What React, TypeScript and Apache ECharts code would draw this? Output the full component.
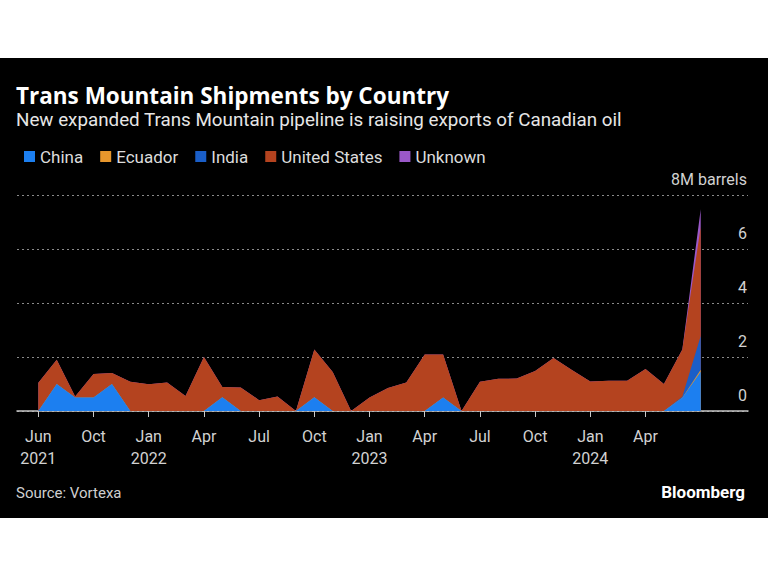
import React, { useEffect, useRef } from "react";
import * as echarts from "echarts";

// Monthly shipments (million barrels), index 0 = first month shown (Jun 2021)
const china = [
  0, 1.0, 0.5, 0.5, 1.0, 0, 0, 0, 0, 0, 0.51, 0, 0, 0, 0, 0.51, 0, 0, 0, 0,
  0, 0, 0.5, 0, 0, 0, 0, 0, 0, 0, 0, 0, 0, 0, 0, 0.49, 1.45,
];
const ecuador = [
  0, 0, 0, 0, 0, 0, 0, 0, 0, 0, 0, 0, 0, 0, 0, 0, 0, 0, 0, 0,
  0, 0, 0, 0, 0, 0, 0, 0, 0, 0, 0, 0, 0, 0, 0, 0, 0.08,
];
const india = [
  0, 0, 0, 0, 0, 0, 0, 0, 0, 0, 0, 0, 0, 0, 0, 0, 0, 0, 0, 0,
  0, 0, 0, 0, 0, 0, 0, 0, 0, 0, 0, 0, 0, 0, 0, 0.04, 1.25,
];
const unitedStates = [
  1.05, 0.9, 0.04, 0.87, 0.41, 1.08, 0.99, 1.06, 0.56, 2.0, 0.38, 0.875, 0.4,
  0.54, 0, 1.77, 1.44, 0, 0.5, 0.85, 1.06, 2.09, 1.59, 0, 1.08, 1.19, 1.2,
  1.48, 1.96, 1.52, 1.09, 1.12, 1.12, 1.56, 1.0, 1.75, 4.04,
];
const unknown = [
  0, 0, 0, 0, 0, 0, 0, 0, 0, 0, 0, 0, 0, 0, 0, 0, 0, 0, 0, 0,
  0, 0, 0, 0, 0, 0, 0, 0, 0, 0, 0, 0, 0, 0, 0, 0, 0.65,
];

const seriesNames = ["China", "Ecuador", "India", "United States", "Unknown"];
const seriesColors = ["#1c7ff0", "#e6962c", "#1a5ec8", "#b4431f", "#9a58c8"];

const tickIndices = [0, 3, 6, 9, 12, 15, 18, 21, 24, 27, 30, 33];
const tickLabels = [
  "Jun\n2021", "Oct", "Jan\n2022", "Apr", "Jul", "Oct",
  "Jan\n2023", "Apr", "Jul", "Oct", "Jan\n2024", "Apr",
];

const FONT = "Roboto, 'Noto Sans', sans-serif";

export default function App() {
  const ref = useRef<HTMLDivElement>(null);
  useEffect(() => {
    document.body.style.margin = "0";
    if (!ref.current) return;
    const chart = echarts.init(ref.current, null, { renderer: "svg" });
    const all = [china, ecuador, india, unitedStates, unknown];
    // cumulative stacks computed here; draw top-most total first so lower layers paint over it
    const cumulative: number[][] = [];
    all.forEach((arr, k) => {
      cumulative.push(arr.map((v, i) => v + (k > 0 ? cumulative[k - 1][i] : 0)));
    });
    const series = all
      .map((_, k) => ({
        name: seriesNames[k],
        type: "line",
        data: cumulative[k].map((v, i) => [i, +v.toFixed(3)]),
        showSymbol: false,
        symbol: "none",
        lineStyle: { width: 0 },
        areaStyle: { color: seriesColors[k], opacity: 1 },
        itemStyle: { color: seriesColors[k] },
        z: 3 + (all.length - k),
      }))
      .reverse();
    chart.setOption({
      animation: false,
      backgroundColor: "#000",
      textStyle: { fontFamily: FONT },
      graphic: [
        { type: "rect", shape: { x: 0, y: 0, width: 768, height: 58 }, style: { fill: "#fff" }, z: 100 },
        { type: "rect", shape: { x: 0, y: 518, width: 768, height: 58 }, style: { fill: "#fff" }, z: 100 },
        {
          type: "text", x: 16, y: 95,
          style: { text: "Trans Mountain Shipments by Country", fill: "#fff", font: `bold 22.5px 'Open Sans', ${FONT}`, textVerticalAlign: "middle" },
        },
        {
          type: "text", x: 16, y: 120,
          style: { text: "New expanded Trans Mountain pipeline is raising exports of Canadian oil", fill: "#e6e6e6", font: `18.8px ${FONT}`, textVerticalAlign: "middle" },
        },
        {
          type: "text", x: 16, y: 493,
          style: { text: "Source: Vortexa", fill: "#cfcfcf", font: `15px ${FONT}`, textVerticalAlign: "middle" },
        },
        {
          type: "text", x: 745, y: 492,
          style: { text: "Bloomberg", fill: "#fff", font: `bold 17px ${FONT}`, textAlign: "right", textVerticalAlign: "middle" },
        },
      ],
      legend: {
        left: 19,
        top: 143,
        icon: "rect",
        itemWidth: 11,
        itemHeight: 11,
        itemGap: 17,
        textStyle: { color: "#dcdcdc", fontSize: 17, fontFamily: FONT },
        data: seriesNames,
      },
      grid: { left: 17, right: 20, top: 195, bottom: 165 },
      xAxis: {
        type: "value",
        min: -1.16,
        max: 38.57,
        splitLine: { show: false },
        axisLine: { show: true, lineStyle: { color: "#c8c8c8", width: 1.5 } },
        axisTick: {
          show: true,
          customValues: tickIndices,
          length: 6,
          lineStyle: { color: "#c8c8c8", width: 1 },
        },
        axisLabel: {
          customValues: tickIndices,
          color: "#d2d2d2",
          fontSize: 16,
          fontFamily: FONT,
          lineHeight: 22,
          margin: 14,
          formatter: (v: number) => {
            const i = tickIndices.indexOf(Math.round(v));
            return i >= 0 ? tickLabels[i] : "";
          },
        },
      },
      yAxis: {
        type: "value",
        position: "right",
        min: 0,
        max: 8,
        interval: 2,
        axisLine: { show: false },
        axisTick: { show: false },
        splitLine: { show: true, lineStyle: { color: "#8a8a8a", type: [2, 3], width: 1 } },
        axisLabel: {
          inside: true,
          margin: 1,
          align: "right",
          verticalAlign: "bottom",
          padding: [0, 0, 8, 0],
          color: "#d2d2d2",
          fontSize: 16,
          fontFamily: FONT,
          formatter: (v: number) => (v === 8 ? "8M barrels" : String(v)),
        },
      },
      series,
    });
    return () => chart.dispose();
  }, []);
  return <div ref={ref} style={{ width: 768, height: 576 }} />;
}
